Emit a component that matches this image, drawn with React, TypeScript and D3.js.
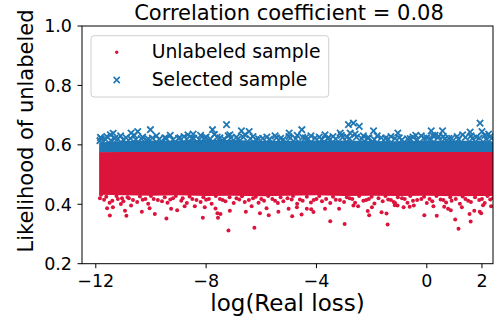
import React from "react";
import * as d3 from "d3";

const W = 497, H = 321;
const title = "Correlation coefficient = 0.08";
const xLabel = "log(Real loss)";
const yLabel = "Likelihood of unlabeled";
const xTicks = [-12, -8, -4, 0, 2];
const yTicks = [0.2, 0.4, 0.6, 0.8, 1.0];
const legendLabels = ["Unlabeled sample", "Selected sample"];

// Dense core envelopes
const bandX = [-11.88, -11, -10, -9, -8, -7, -6, -5, -4, -3, -2, -1, 0, 1, 2, 2.45];
const redLow = [0.432, 0.43, 0.429, 0.43, 0.428, 0.429, 0.427, 0.429, 0.43, 0.428, 0.429, 0.428, 0.429, 0.427, 0.428, 0.428];
const redHigh = [0.575, 0.576, 0.576, 0.576, 0.576, 0.576, 0.576, 0.576, 0.576, 0.576, 0.576, 0.576, 0.576, 0.576, 0.576, 0.576];
const blueLow = [0.573, 0.573, 0.573, 0.573, 0.573, 0.573, 0.573, 0.573, 0.573, 0.573, 0.573, 0.573, 0.573, 0.573, 0.573, 0.573];
const blueHigh = [0.608, 0.613, 0.615, 0.614, 0.617, 0.616, 0.614, 0.614, 0.615, 0.615, 0.613, 0.612, 0.614, 0.615, 0.613, 0.612];

// Unlabeled sample: scattered points below the dense core
const redX = [-11.49, -10.89, -10.33, -9.86, -9.44, -11.59, -11.38, -10.94, -10.72, -10.05, -9.27, -9.05, -8.78, -11.81, -11.09,
  -8.12, -7.19, -7.57, -7.48, -6.25, -4.88, -3.5, -2.98, -1.42, -0.09, 0.36, 1.15, 1.59, 1.03, 0.87,
  -5.73, -5.38, -4.54, -4.19, -3.69, -3.18, -2.49, -2.14, -1.64, -1.46, -1.16, -0.62, 0.77, 1.92, 2.04,
  -7.59, -7.66, -7.14, -6.56, -6.05, -5.01, -8.41, -8.05, -6.35, -5.81, -4.11, -2.66, -4.71, -4.35, -1.99,
  -2.09, -1.06, -0.84, -0.47, 0.24, 0.63, 1.27, 1.72, 2.33, 1.55, 1.97, -1.15,
  -11.7, -11.5, -11.2, -11.0, -10.8, -10.5, -10.3, -10.1, -9.9, -9.6, -9.4, -9.2, -8.9, -8.7, -8.5, -8.2, -8.0, -7.8, -7.5, -7.3,
  -7.0, -6.8, -6.6, -6.3, -6.1, -5.9, -5.6, -5.4, -5.2, -4.9, -4.7, -4.5, -4.2, -4.0, -3.8, -3.5, -3.3, -3.0, -2.8, -2.6,
  -2.3, -2.1, -1.9, -1.6, -1.4, -1.2, -0.9, -0.7, -0.5, -0.2, 0.0, 0.2, 0.5, 0.7, 0.9, 1.2, 1.4, 1.6, 1.9, 2.1, 2.3,
  -11.85, -11.62, -11.4, -11.25, -11.05, -10.85, -10.65, -10.4, -10.2, -10.0, -9.75, -9.5, -9.3, -9.1, -8.85, -8.6, -8.35, -8.1,
  -7.9, -7.65, -7.4, -7.15, -6.9, -6.7, -6.45, -6.2, -6.0, -5.75, -5.5, -5.3, -5.05, -4.85, -4.6, -4.35, -4.1, -3.9, -3.65,
  -3.4, -3.15, -2.9, -2.7, -2.45, -2.2, -2.0, -1.75, -1.5, -1.3, -1.05, -0.8, -0.6, -0.35, -0.1, 0.1, 0.35, 0.6, 0.85, 1.05,
  1.3, 1.5, 1.75, 2.0, 2.2, 2.4];
const redY = [0.362, 0.361, 0.375, 0.367, 0.352, 0.387, 0.39, 0.378, 0.396, 0.387, 0.385, 0.38, 0.393, 0.432, 0.401,
  0.355, 0.312, 0.355, 0.367, 0.321, 0.36, 0.343, 0.334, 0.332, 0.363, 0.361, 0.318, 0.342, 0.349, 0.38,
  0.363, 0.375, 0.366, 0.383, 0.385, 0.385, 0.393, 0.377, 0.373, 0.369, 0.397, 0.392, 0.385, 0.375, 0.397,
  0.37, 0.386, 0.378, 0.375, 0.37, 0.385, 0.393, 0.39, 0.393, 0.387, 0.374, 0.396, 0.39, 0.385, 0.39,
  0.363, 0.396, 0.39, 0.396, 0.393, 0.392, 0.39, 0.378, 0.393, 0.367, 0.37, 0.404,
  0.415, 0.405, 0.418, 0.41, 0.42, 0.408, 0.415, 0.402, 0.418, 0.41, 0.405, 0.42, 0.412, 0.404, 0.418, 0.408, 0.415, 0.402, 0.418, 0.41,
  0.404, 0.416, 0.408, 0.42, 0.405, 0.412, 0.418, 0.404, 0.41, 0.416, 0.402, 0.412, 0.406, 0.418, 0.41, 0.404, 0.415, 0.408, 0.42, 0.405,
  0.412, 0.418, 0.403, 0.41, 0.416, 0.408, 0.42, 0.405, 0.412, 0.418, 0.404, 0.41, 0.416, 0.406, 0.412, 0.402, 0.418, 0.408, 0.414, 0.404, 0.416,
  0.42, 0.425, 0.412, 0.428, 0.42, 0.424, 0.414, 0.426, 0.418, 0.428, 0.414, 0.424, 0.416, 0.428, 0.42, 0.426, 0.414, 0.424,
  0.418, 0.428, 0.414, 0.424, 0.42, 0.427, 0.414, 0.425, 0.418, 0.428, 0.412, 0.424, 0.42, 0.428, 0.416, 0.425, 0.414, 0.428, 0.418,
  0.425, 0.414, 0.424, 0.418, 0.428, 0.414, 0.425, 0.42, 0.428, 0.414, 0.424, 0.418, 0.428, 0.414, 0.425, 0.418, 0.428, 0.414, 0.424, 0.418,
  0.426, 0.412, 0.424, 0.418, 0.428, 0.42];

// Selected sample: scattered points above the dense core
const blueX = [-11.83, -10.72, -10.48, -10.02, -11.47, -8.66, -7.77, -7.26, -6.72, -6.44, -4.99, -8.47, -7.14, -4.53, -2.84, -2.66, -2.45,
  -2.78, -1.93, -3.69, -3.14, 1.93, -1.05, -0.4, 0.16, 0.57, 1.57, 2.0, 2.24, 0.21, 0.43, -11.37,
  -11.8, -11.6, -11.3, -11.1, -10.9, -10.6, -10.3, -10.1, -9.8, -9.5, -9.3, -9.0, -8.8, -8.5, -8.2, -8.0, -7.7, -7.5, -7.2, -6.9,
  -6.6, -6.3, -6.1, -5.8, -5.5, -5.3, -5.0, -4.7, -4.4, -4.2, -3.9, -3.6, -3.4, -3.1, -2.9, -2.6, -2.3, -2.1, -1.8, -1.5,
  -1.3, -1.0, -0.7, -0.5, -0.2, 0.0, 0.3, 0.6, 0.8, 1.1, 1.3, 1.6, 1.8, 2.1, 2.3,
  -11.85, -11.65, -11.45, -11.2, -11.0, -10.75, -10.55, -10.35, -10.15, -9.95, -9.7, -9.45, -9.2, -8.95, -8.7, -8.45, -8.25, -8.05,
  -7.85, -7.6, -7.35, -7.1, -6.85, -6.65, -6.4, -6.2, -5.95, -5.7, -5.45, -5.2, -4.95, -4.75, -4.5, -4.3, -4.05, -3.8, -3.55,
  -3.3, -3.05, -2.8, -2.55, -2.35, -2.15, -1.9, -1.65, -1.4, -1.15, -0.9, -0.6, -0.35, -0.1, 0.15, 0.4, 0.65, 0.9, 1.15, 1.4,
  1.65, 1.9, 2.15, 2.35];
const blueY = [0.625, 0.64, 0.645, 0.651, 0.634, 0.634, 0.651, 0.668, 0.647, 0.645, 0.64, 0.636, 0.634, 0.651, 0.668, 0.673, 0.662,
  0.64, 0.647, 0.634, 0.64, 0.673, 0.64, 0.632, 0.647, 0.647, 0.643, 0.645, 0.636, 0.632, 0.629, 0.639,
  0.62, 0.628, 0.622, 0.63, 0.624, 0.632, 0.626, 0.62, 0.63, 0.624, 0.632, 0.622, 0.628, 0.624, 0.632, 0.626, 0.635, 0.624, 0.63, 0.626,
  0.634, 0.628, 0.62, 0.626, 0.63, 0.622, 0.628, 0.632, 0.624, 0.63, 0.626, 0.622, 0.628, 0.632, 0.626, 0.636, 0.63, 0.624, 0.63, 0.622,
  0.628, 0.624, 0.62, 0.626, 0.63, 0.624, 0.632, 0.628, 0.622, 0.628, 0.634, 0.63, 0.626, 0.632, 0.628,
  0.614, 0.618, 0.615, 0.62, 0.617, 0.622, 0.618, 0.621, 0.616, 0.623, 0.619, 0.622, 0.617, 0.624, 0.619, 0.622, 0.618, 0.624,
  0.62, 0.626, 0.62, 0.624, 0.619, 0.626, 0.621, 0.618, 0.622, 0.619, 0.624, 0.618, 0.623, 0.62, 0.625, 0.62, 0.623, 0.618, 0.624,
  0.62, 0.625, 0.621, 0.626, 0.62, 0.623, 0.618, 0.624, 0.619, 0.622, 0.617, 0.621, 0.618, 0.623, 0.619, 0.624, 0.62, 0.622, 0.619,
  0.625, 0.621, 0.623, 0.619, 0.622];

const RED = "#dc143c";
const BLUE = "#1f77b4";
const FONT = "DejaVu Sans";

export default function App() {
  const L = 82, R = 493, T = 26, B = 263.7;
  const x = d3.scaleLinear().domain([-12.5, 2.4]).range([L, R]);
  const y = d3.scaleLinear().domain([0.2, 1.0]).range([B, T]);

  const redArea = d3.area<number>().x((_, i) => x(bandX[i])).y0((_, i) => y(redLow[i])).y1((_, i) => y(redHigh[i]));
  const blueArea = d3.area<number>().x((_, i) => x(bandX[i])).y0((_, i) => y(blueLow[i])).y1((_, i) => y(blueHigh[i]));

  const xm = (cx: number, cy: number, s: number) => `M${cx - s},${cy - s}L${cx + s},${cy + s}M${cx - s},${cy + s}L${cx + s},${cy - s}`;

  return (
    <svg width={W} height={H} style={{ position: "absolute", left: 0, top: 0, background: "#fff" }} fontFamily={FONT}>
      <defs>
        <clipPath id="plotclip"><rect x={L} y={T} width={R - L} height={B - T} /></clipPath>
      </defs>
      <g clipPath="url(#plotclip)">
        <path d={blueArea(bandX) || ""} fill={BLUE} />
        {blueX.map((v, i) => (
          <path key={"b" + i} d={xm(x(v), y(blueY[i]), 3.2)} stroke={BLUE} strokeWidth={1.8} fill="none" />
        ))}
        <path d={redArea(bandX) || ""} fill={RED} />
        {redX.map((v, i) => (
          <circle key={"r" + i} cx={x(v)} cy={y(redY[i])} r={2} fill={RED} />
        ))}
      </g>
      <rect x={L} y={T} width={R - L} height={B - T} fill="none" stroke="#000" strokeWidth={1} />
      {xTicks.map((t) => (
        <g key={"xt" + t}>
          <line x1={x(t)} x2={x(t)} y1={B} y2={B + 4.5} stroke="#000" strokeWidth={1} />
          <text x={x(t)} y={287} textAnchor="middle" fontSize={17.5} fill="#000">{t < 0 ? "\u2212" + Math.abs(t) : String(t)}</text>
        </g>
      ))}
      {yTicks.map((t) => (
        <g key={"yt" + t}>
          <line x1={L - 4.5} x2={L} y1={y(t)} y2={y(t)} stroke="#000" strokeWidth={1} />
          <text x={72} y={y(t)} dy="0.36em" textAnchor="end" fontSize={17.5} fill="#000">{t.toFixed(1)}</text>
        </g>
      ))}
      <text x={(L + R) / 2} y={311} textAnchor="middle" fontSize={23} fill="#000">{xLabel}</text>
      <text transform={`translate(33,131) rotate(-90)`} textAnchor="middle" fontSize={21} fill="#000">{yLabel}</text>
      <text x={289} y={20} textAnchor="middle" fontSize={21} fill="#000">{title}</text>
      <g>
        <rect x={91} y={35.7} width={237.7} height={61.3} rx={3} fill="#fff" fillOpacity={0.8} stroke="#d0d0d0" strokeWidth={1} />
        <circle cx={116.7} cy={52.3} r={1.7} fill={RED} />
        <path d={xm(116.7, 80, 3.1)} stroke={BLUE} strokeWidth={1.6} fill="none" />
        <text x={151.7} y={58.3} fontSize={18.8} fill="#000">{legendLabels[0]}</text>
        <text x={151.7} y={86} fontSize={18.8} fill="#000">{legendLabels[1]}</text>
      </g>
    </svg>
  );
}
